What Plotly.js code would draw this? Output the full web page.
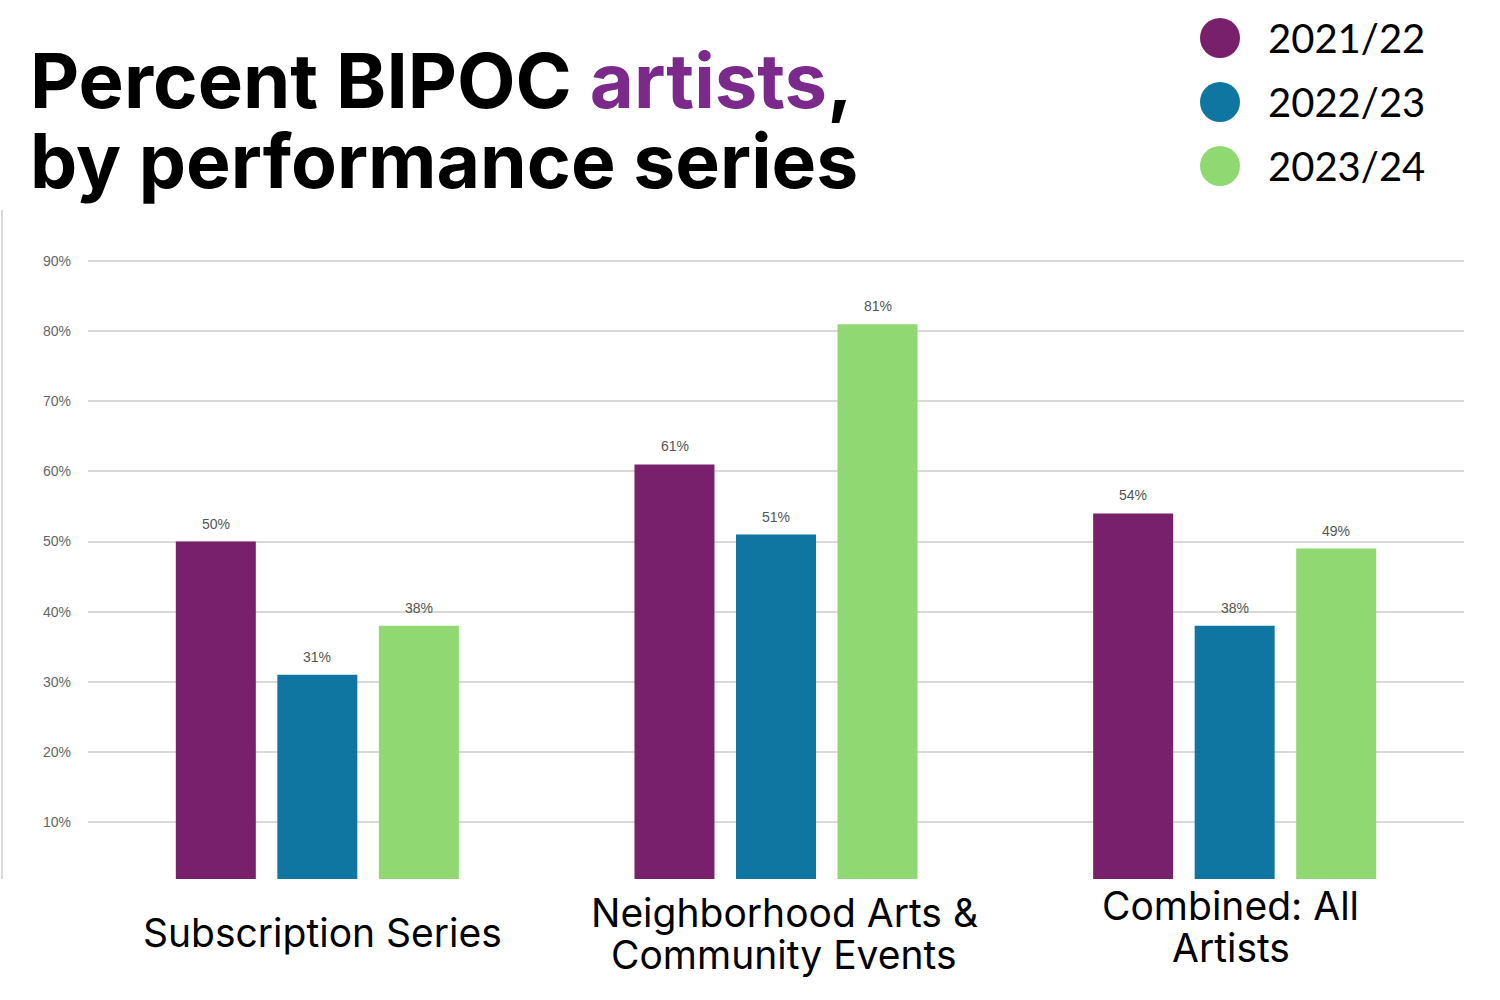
<!DOCTYPE html>
<html>
<head>
<meta charset="utf-8">
<script src="https://cdn.plot.ly/plotly-3.0.1.min.js"></script>
<style>html,body{margin:0;padding:0;background:#fff;}#chart{width:1500px;height:1000px;}</style>
</head>
<body>
<div id="chart"></div>
<script>
// ---- data ----
const categories = ["Subscription Series", "Neighborhood Arts &<br>Community Events", "Combined: All<br>Artists"];
const seriesNames = ["2021/22", "2022/23", "2023/24"];
const values2122 = [50, 61, 54];
const values2223 = [31, 51, 38];
const values2324 = [38, 81, 49];
const yTickVals = [10, 20, 30, 40, 50, 60, 70, 80, 90];
const yTickText = ["10%", "20%", "30%", "40%", "50%", "60%", "70%", "80%", "90%"];
const titleLine1 = "Percent BIPOC <span style='color:#7b2a8c'>artists</span>,";
const titleLine2 = "by performance series";

// ---- styling ----
const colors = ["#78206b", "#0e76a0", "#8fd872"];
const seriesValues = [values2122, values2223, values2324];

const W = 1500, H = 1000;
const M = {l: 88, r: 36, t: 210, b: 121};
const plotW = W - M.l - M.r, plotH = H - M.t - M.b;
const px = x => (x - M.l) / plotW;
const py = y => (H - M.b - y) / plotH;

const traces = seriesValues.map((vals, i) => ({
  type: "bar",
  name: seriesNames[i],
  x: categories,
  y: vals,
  marker: {color: colors[i]},
  hoverinfo: "skip",
  showlegend: false
}));

const annotations = [];
// data labels
const offsets = [-1, 0, 1];
seriesValues.forEach((vals, i) => {
  vals.forEach((v, j) => {
    annotations.push({
      x: j, y: v, xref: "x", yref: "y",
      text: v + "%", showarrow: false,
      xanchor: "center", yanchor: "bottom",
      xshift: offsets[i] * 101.5, yshift: 8,
      font: {family: "Liberation Sans, Arial, sans-serif", size: 14, color: "#555555"}
    });
  });
});
// category labels (each line placed separately for tighter line spacing)
const catLineY = [[932], [912, 954], [905, 947]];
const catShiftX = [5, 8, -4];
categories.forEach((c, j) => {
  c.split("<br>").forEach((line, k) => {
    annotations.push({
      x: j, xref: "x", y: py(catLineY[j][k]), yref: "paper",
      xshift: catShiftX[j],
      text: line, showarrow: false, xanchor: "center", yanchor: "middle",
      font: {family: "Inter, Lato, sans-serif", size: 39, color: "#000"}
    });
  });
});
// title
annotations.push({
  x: px(28), y: py(80), xref: "paper", yref: "paper",
  text: "<b>" + titleLine1 + "</b>", showarrow: false, xanchor: "left", yanchor: "middle",
  font: {family: "Inter, Lato, sans-serif", size: 76, color: "#000"}
});
annotations.push({
  x: px(28), y: py(160), xref: "paper", yref: "paper",
  text: "<b>" + titleLine2 + "</b>", showarrow: false, xanchor: "left", yanchor: "middle",
  font: {family: "Inter, Lato, sans-serif", size: 75, color: "#000"}
});
// legend
const legY = [38, 102, 166];
const shapes = [];
seriesNames.forEach((n, i) => {
  shapes.push({
    type: "circle", xref: "paper", yref: "paper",
    x0: px(1200), x1: px(1240), y0: py(legY[i] + 20), y1: py(legY[i] - 20),
    fillcolor: colors[i], line: {width: 0}
  });
  annotations.push({
    x: px(1346), y: py(legY[i]), xref: "paper", yref: "paper",
    text: n, showarrow: false, xanchor: "center", yanchor: "middle",
    font: {family: "Lato, sans-serif", size: 40, color: "#000"}
  });
});
// left border line
shapes.push({
  type: "line", xref: "paper", yref: "paper",
  x0: px(2), x1: px(2), y0: 0, y1: 1,
  line: {color: "#d9d9d9", width: 2}
});

const layout = {
  width: W, height: H,
  margin: M,
  paper_bgcolor: "#ffffff",
  plot_bgcolor: "#ffffff",
  showlegend: false,
  barmode: "group",
  bargap: 0.336,
  bargroupgap: 0.212,
  xaxis: {
    type: "category",
    showticklabels: false,
    showgrid: false, zeroline: false, showline: false, ticks: ""
  },
  yaxis: {
    range: [1.87, 97.28],
    tickvals: yTickVals, ticktext: yTickText,
    showgrid: true, gridcolor: "#d9d9d9", gridwidth: 2,
    zeroline: false, showline: false, ticks: "",
    ticklabelstandoff: 16,
    tickfont: {family: "Liberation Sans, Arial, sans-serif", size: 14, color: "#666666"}
  },
  annotations: annotations,
  shapes: shapes
};

Plotly.newPlot("chart", traces, layout, {displayModeBar: false, staticPlot: true});
</script>
</body>
</html>
